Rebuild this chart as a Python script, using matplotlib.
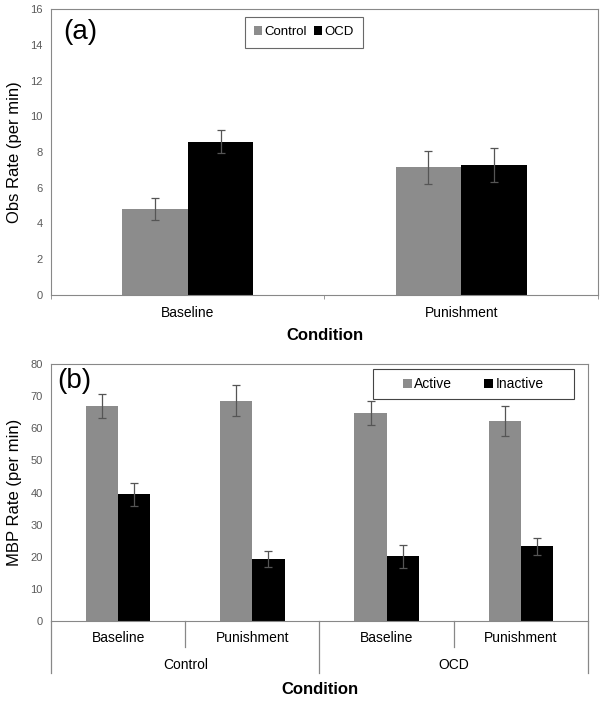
import matplotlib.pyplot as plt
from matplotlib.patches import Rectangle
import numpy as np

plt.rcParams['font.family'] = ['Liberation Sans', 'DejaVu Sans']

# panel (a)
conds_a = ["Baseline", "Punishment"]
control_a = [4.8, 7.15]
control_a_err = [0.63, 0.92]
ocd_a = [8.58, 7.27]
ocd_a_err = [0.65, 0.93]

# panel (b)
groups_b = ["Control", "OCD"]
conds_b = ["Baseline", "Punishment", "Baseline", "Punishment"]
active_b = [67.0, 68.6, 64.7, 62.3]
active_b_err = [3.7, 4.8, 3.8, 4.7]
inactive_b = [39.5, 19.4, 20.2, 23.2]
inactive_b_err = [3.6, 2.5, 3.6, 2.5]

GRAY = "#8c8c8c"
EDGE = "#888888"
TICKC = "#595959"
ERRC = "#555555"
ekw = dict(ecolor=ERRC, capsize=3, elinewidth=0.9, capthick=0.9)

fig = plt.figure(figsize=(6.03, 7.06), dpi=100)

# ---------- (a)
ax = fig.add_axes([0.0846, 0.5822, 0.907, 0.405])
x = np.arange(len(conds_a))
w = 0.24
ax.bar(x - w / 2, control_a, w, color=GRAY, label="Control", yerr=control_a_err, error_kw=ekw)
ax.bar(x + w / 2, ocd_a, w, color="black", label="OCD", yerr=ocd_a_err, error_kw=ekw)
ax.set_xlim(-0.5, len(conds_a) - 0.5)
ax.set_ylim(0, 16)
ax.set_yticks(range(0, 17, 2))
ax.set_xticks(x)
ax.set_xticklabels(conds_a, fontsize=10)
ax.set_xticks(np.arange(len(conds_a) + 1) - 0.5, minor=True)
ax.tick_params(axis="x", which="major", length=0, pad=8, colors="black")
ax.tick_params(axis="x", which="minor", length=3, color=EDGE)
ax.tick_params(axis="y", length=0, labelsize=8, labelcolor=TICKC, pad=6)
for s in ax.spines.values():
    s.set_color(EDGE)
ax.set_ylabel("Obs Rate (per min)", fontsize=12, labelpad=6)
ax.set_xlabel("Condition", fontsize=12, fontweight="bold", labelpad=6)
ax.text(0.023, 0.965, "(a)", transform=ax.transAxes, fontsize=20, va="top")
leg = ax.legend(loc="upper left", bbox_to_anchor=(0.3547, 0.972), ncol=2, fontsize=9.5,
                frameon=True, fancybox=False, edgecolor="#444444", handlelength=0.6,
                handleheight=0.6, handletextpad=0.2, columnspacing=0.5, borderpad=0.7,
                borderaxespad=0)
leg.get_frame().set_linewidth(0.8)

# ---------- (b)
bx = fig.add_axes([0.0846, 0.1204, 0.8905, 0.364])
xb = np.arange(len(conds_b))
bx.bar(xb - w / 2, active_b, w, color=GRAY, label="Active", yerr=active_b_err, error_kw=ekw)
bx.bar(xb + w / 2, inactive_b, w, color="black", label="Inactive", yerr=inactive_b_err, error_kw=ekw)
bx.set_xlim(-0.5, len(conds_b) - 0.5)
bx.set_ylim(0, 80)
bx.set_yticks(range(0, 81, 10))
bx.set_xticks(xb)
bx.set_xticklabels(conds_b, fontsize=10)
bx.tick_params(axis="x", length=0, pad=7, colors="black")
bx.tick_params(axis="y", length=0, labelsize=8, labelcolor=TICKC, pad=6)
for s in bx.spines.values():
    s.set_color(EDGE)
bx.set_ylabel("MBP Rate (per min)", fontsize=12, labelpad=6)

trans = bx.get_xaxis_transform()
# separators under the axis: short between conditions, long between groups
n_per = len(conds_b) // len(groups_b)
for i in range(len(conds_b) + 1):
    xp = i - 0.5
    depth = -0.202 if i % n_per == 0 else -0.101
    bx.plot([xp, xp], [0, depth], transform=trans, color=EDGE, lw=0.9, clip_on=False)
for g, name in enumerate(groups_b):
    xc = g * n_per + (n_per - 1) / 2
    bx.text(xc, -0.171, name, transform=trans, ha="center", va="center", fontsize=10)
bx.text(0.5, -0.268, "Condition", transform=bx.transAxes, ha="center", va="center",
        fontsize=12, fontweight="bold")
bx.text(0.011, 0.985, "(b)", transform=bx.transAxes, fontsize=20, va="top")

# legend box (b): wide frame with entries centred inside
bx.add_patch(Rectangle((0.5996, 0.864), 0.374, 0.1165, transform=bx.transAxes,
                       facecolor="white", edgecolor="#444444", lw=0.8, zorder=4))
leg2 = bx.legend(loc="center", bbox_to_anchor=(0.5996 + 0.374 / 2, 0.864 + 0.1165 / 2),
                 ncol=2, fontsize=10, frameon=False, handlelength=0.6, handleheight=0.6,
                 handletextpad=0.2, columnspacing=2.3, borderpad=0)
leg2.set_zorder(5)

fig.savefig("out.png", dpi=100)
